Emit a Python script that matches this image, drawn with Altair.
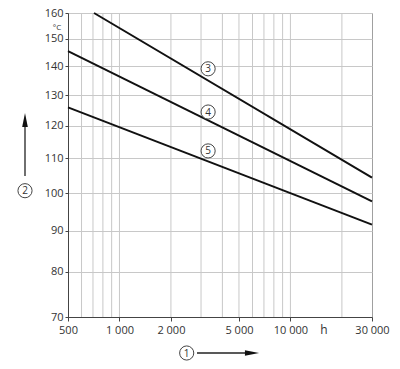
import altair as alt
import pandas as pd

# ---- data ----
hours_ticks = [500, 1000, 2000, 5000, 10000, 30000]
hours_grid = [600, 700, 800, 900, 1000, 2000, 3000, 4000, 5000, 6000, 7000, 8000, 9000, 10000, 20000]
temp_ticks = [70, 80, 90, 100, 110, 120, 130, 140, 150, 160]

curve_ids = ["3", "4", "5"]
start_hours = [710, 500, 500]
start_temp = [160, 145.5, 125.9]
end_hours = [30000, 30000, 30000]
end_temp = [104.35, 97.75, 91.6]

label_hours = [3300, 3300, 3300]
label_temp = [139.1, 124.4, 112.2]

FONT = "Open Sans"
GRID = "#c8c8c8"
DARK = "#444444"

rows = []
for c, h0, t0, h1, t1 in zip(curve_ids, start_hours, start_temp, end_hours, end_temp):
    rows.append({"curve": c, "hours": h0, "temp": t0})
    rows.append({"curve": c, "hours": h1, "temp": t1})
lines_df = pd.DataFrame(rows)
labels_df = pd.DataFrame({"curve": curve_ids, "hours": label_hours, "temp": label_temp})
grid_df = pd.DataFrame({"hours": hours_grid, "temp": [160] * len(hours_grid)})

xscale = alt.Scale(type="log", domain=[500, 30000], nice=False)
yscale = alt.Scale(type="pow", exponent=0.24, domain=[70, 160], zero=False, nice=False)

x_axis = alt.Axis(values=hours_ticks, grid=False, title=None,
                  labelExpr="replace(format(datum.value, ','), ',', ' ')",
                  labelFont=FONT, labelFontSize=11, labelColor="#333",
                  tickSize=4, tickColor=DARK, domainColor=DARK, labelPadding=3,
                  labelFlush=False, labelOverlap=False)
y_axis = alt.Axis(values=temp_ticks, grid=True, gridColor=GRID, title=None,
                  labelFont=FONT, labelFontSize=11, labelColor="#333",
                  tickSize=3, tickColor=DARK, domainColor=DARK, labelPadding=2,
                  labelOverlap=False, tickCount=10)

X = alt.X("hours:Q", scale=xscale, axis=x_axis)
Y = alt.Y("temp:Q", scale=yscale, axis=y_axis)

grid = alt.Chart(grid_df).mark_rule(color=GRID, strokeWidth=1).encode(
    x=X, y=Y, y2=alt.value(304)
)

lines = alt.Chart(lines_df).mark_line(color="#111", strokeWidth=2).encode(
    x=X, y=Y, detail="curve:N",
)

circles = alt.Chart(labels_df).mark_point(
    shape="circle", filled=True, fill="white", stroke=DARK, strokeWidth=1, size=200, opacity=1
).encode(x=X, y=Y)

digits = alt.Chart(labels_df).mark_text(
    font=FONT, fontSize=10, color="#333", align="center", baseline="middle", dy=0.5
).encode(x=X, y=Y, text="curve:N")

one = pd.DataFrame({"a": [0]})

unit = alt.Chart(one).mark_text(font=FONT, fontSize=8, color="#333", align="center", baseline="middle").encode(
    x=alt.value(-11), y=alt.value(15), text=alt.value("°C")
)
hunit = alt.Chart(one).mark_text(font=FONT, fontSize=12, color="#333", align="center", baseline="middle").encode(
    x=alt.value(256), y=alt.value(317), text=alt.value("h")
)

# axis 2 arrow (vertical)
shaft2 = alt.Chart(one).mark_rule(color="#222", strokeWidth=1.3).encode(
    x=alt.value(-43), y=alt.value(163), y2=alt.value(110)
)
head2 = alt.Chart(one).mark_point(
    shape="M0,-1L0.4,1L-0.4,1Z", filled=True, color="#111", size=200, opacity=1
).encode(x=alt.value(-43), y=alt.value(107))
circ2 = alt.Chart(one).mark_point(
    shape="circle", filled=True, fill="white", stroke=DARK, strokeWidth=1, size=200, opacity=1
).encode(x=alt.value(-43), y=alt.value(177.7))
dig2 = alt.Chart(one).mark_text(font=FONT, fontSize=10, color="#333", align="center", baseline="middle", dy=0.5).encode(
    x=alt.value(-43), y=alt.value(177.7), text=alt.value("2")
)

# axis 1 arrow (horizontal)
shaft1 = alt.Chart(one).mark_rule(color="#222", strokeWidth=1.3).encode(
    x=alt.value(129), x2=alt.value(184), y=alt.value(340)
)
head1 = alt.Chart(one).mark_point(
    shape="M1,0L-1,0.4L-1,-0.4Z", filled=True, color="#111", size=200, opacity=1
).encode(x=alt.value(184), y=alt.value(340))
circ1 = alt.Chart(one).mark_point(
    shape="circle", filled=True, fill="white", stroke=DARK, strokeWidth=1, size=200, opacity=1
).encode(x=alt.value(118.7), y=alt.value(340))
dig1 = alt.Chart(one).mark_text(font=FONT, fontSize=10, color="#333", align="center", baseline="middle", dy=0.5).encode(
    x=alt.value(118.7), y=alt.value(340), text=alt.value("1")
)

chart = alt.layer(
    grid, lines, circles, digits, unit, hunit,
    shaft2, head2, circ2, dig2, shaft1, head1, circ1, dig1
).properties(
    width=304, height=304,
    padding={"left": 60, "top": 5, "right": 20, "bottom": 44},
    autosize="none",
).configure_view(stroke="#a0a0a0", strokeWidth=1)

chart.save("out.html", embed_options={"renderer": "svg", "actions": False})
